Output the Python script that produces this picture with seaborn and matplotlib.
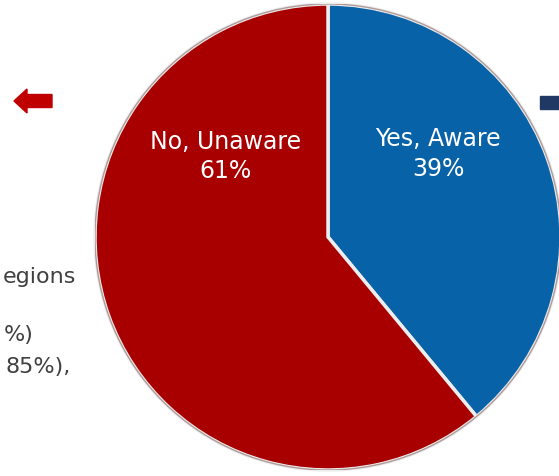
import matplotlib
matplotlib.use("Agg")
import matplotlib.pyplot as plt
import seaborn as sns
from matplotlib.patches import FancyArrow, Rectangle, Circle

sns.set_theme(style="white")
plt.rcParams['font.family'] = ['DejaVu Sans']

categories = ["Yes, Aware", "No, Unaware"]
values = [39, 61]
colors = ["#0862A8", "#A80000"]

fig = plt.figure(figsize=(5.59, 4.77), dpi=100)
ax = fig.add_axes([95/559, 6/477, 466/559, 466/477])
wedges, _ = ax.pie(values, colors=colors, startangle=90, counterclock=False,
                   wedgeprops=dict(edgecolor="#EDEDED", linewidth=2.5))
ax.add_patch(Circle((0, 0), 1.0, fill=False, edgecolor="#400000", linewidth=1.0, alpha=0.35, zorder=3))
ax.set_xlim(-1, 1)
ax.set_ylim(-1, 1)
ax.set_aspect("equal")
ax.axis("off")

label_pos = {"Yes, Aware": (0.473, 0.362), "No, Unaware": (-0.44, 0.35)}
for cat, val in zip(categories, values):
    x, y = label_pos[cat]
    ax.text(x, y, f"{cat}\n{val}%", ha="center", va="center", color="white",
            fontsize=17, linespacing=1.3, zorder=5)

# side text fragments visible in the (cropped) original
side_color = "#404040"
fig.text(76/559, 1 - 277/477, "egions", ha="right", va="center", color=side_color, fontsize=16)
fig.text(34/559, 1 - 335/477, "%)", ha="right", va="center", color=side_color, fontsize=16)
fig.text(71/559, 1 - 367/477, "85%),", ha="right", va="center", color=side_color, fontsize=16)

# red arrow and navy marker
fig.patches.append(FancyArrow(52/559, 1 - 102/477, -38/559, 0, width=13/477,
                              head_width=24/477, head_length=13/559,
                              length_includes_head=True, color="#C00000",
                              transform=fig.transFigure, figure=fig))
fig.patches.append(Rectangle((540/559, 1 - 110/477), 25/559, 13/477,
                             color="#1F3864", transform=fig.transFigure, figure=fig))

fig.savefig("out.png", dpi=100)
